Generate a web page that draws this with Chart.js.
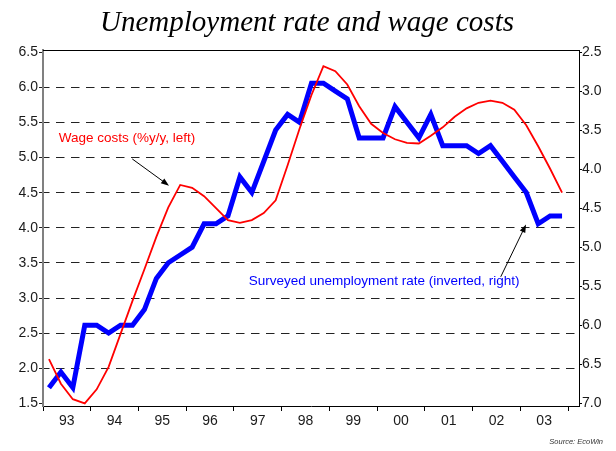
<!DOCTYPE html>
<html>
<head>
<meta charset="utf-8">
<style>
html, body { margin: 0; padding: 0; background: #fff; }
#wrap { position: relative; width: 616px; height: 451px; }
</style>
<script src="https://cdn.jsdelivr.net/npm/chart.js"></script>
</head>
<body>
<div id="wrap"><canvas id="chart" width="616" height="451"></canvas></div>
<script>
// year labels on the x axis (one per calendar year)
const yearLabels = ['93', '94', '95', '96', '97', '98', '99', '00', '01', '02', '03'];
const firstYear = 1993;

// quarterly observations, 1993 Q1 .. 2003 Q4
const quarters = [];
yearLabels.forEach((lab, i) => {
  for (let q = 1; q <= 4; q++) quarters.push({ year: firstYear + i, q: q });
});

// wage costs, % y/y (left axis)
const wageCosts = [2.13, 1.78, 1.56, 1.50, 1.70, 2.02, 2.49, 2.96, 3.41, 3.87, 4.29, 4.61,
  4.57, 4.45, 4.28, 4.11, 4.07, 4.11, 4.21, 4.39, 4.89, 5.41, 5.89, 6.30,
  6.23, 6.04, 5.73, 5.48, 5.35, 5.26, 5.21, 5.20, 5.31, 5.43, 5.58, 5.70,
  5.78, 5.81, 5.78, 5.68, 5.46, 5.16, 4.84, 4.50];

// surveyed unemployment rate, % (right axis, inverted)
const unemployment = [6.8, 6.6, 6.8, 6.0, 6.0, 6.1, 6.0, 6.0, 5.8, 5.4, 5.2, 5.1,
  5.0, 4.7, 4.7, 4.6, 4.1, 4.3, 3.9, 3.5, 3.3, 3.4, 2.9, 2.9,
  3.0, 3.1, 3.6, 3.6, 3.6, 3.2, 3.4, 3.6, 3.3, 3.7, 3.7, 3.7,
  3.8, 3.7, 3.9, 4.1, 4.3, 4.7, 4.6, 4.6];

const leftTicks = [1.5, 2.0, 2.5, 3.0, 3.5, 4.0, 4.5, 5.0, 5.5, 6.0, 6.5];
const rightTicks = [2.5, 3.0, 3.5, 4.0, 4.5, 5.0, 5.5, 6.0, 6.5, 7.0];

const titleText = 'Unemployment rate and wage costs';
const sourceText = 'Source: EcoWin';

// annotation texts, anchored in data units (x = year, y = axis value)
const notes = [
  { text: 'Wage costs (%y/y, left)', color: '#ff0000', axis: 'y', x: 1993.33, y: 5.27,
    from: [1994.87, 4.98], to: [1995.64, 4.60] },
  { text: 'Surveyed unemployment rate (inverted, right)', color: '#0000ff', axis: 'y1', x: 1997.31, y: 5.44,
    from: [2002.59, 5.38], to: [2003.12, 4.71] }
];

const qx = p => p.year + (p.q - 0.5) / 4;
const tickFont = { family: '"Liberation Sans", Arial, sans-serif', size: 14 };

const extras = {
  id: 'extras',
  afterDraw(chart) {
    const ctx = chart.ctx;
    const a = chart.chartArea;
    const xs = chart.scales.x;
    ctx.save();
    // top frame line
    ctx.strokeStyle = '#000';
    ctx.lineWidth = 1;
    ctx.beginPath();
    ctx.moveTo(a.left, Math.round(a.top) + 0.5);
    ctx.lineTo(a.right, Math.round(a.top) + 0.5);
    ctx.stroke();

    // title
    ctx.fillStyle = '#000';
    ctx.font = 'italic 29px "Liberation Serif", "Times New Roman", serif';
    ctx.textAlign = 'center';
    ctx.textBaseline = 'alphabetic';
    ctx.fillText(titleText, 307, 31);

    // annotations
    notes.forEach(n => {
      const ys = chart.scales[n.axis];
      ctx.font = '13.5px "Liberation Sans", Arial, sans-serif';
      ctx.fillStyle = n.color;
      ctx.textAlign = 'left';
      ctx.textBaseline = 'middle';
      ctx.fillText(n.text, xs.getPixelForValue(n.x), ys.getPixelForValue(n.y));

      const x1 = xs.getPixelForValue(n.from[0]), y1 = ys.getPixelForValue(n.from[1]);
      const x2 = xs.getPixelForValue(n.to[0]), y2 = ys.getPixelForValue(n.to[1]);
      const ang = Math.atan2(y2 - y1, x2 - x1);
      ctx.strokeStyle = '#000';
      ctx.fillStyle = '#000';
      ctx.lineWidth = 1;
      ctx.beginPath();
      ctx.moveTo(x1, y1);
      ctx.lineTo(x2 - 5 * Math.cos(ang), y2 - 5 * Math.sin(ang));
      ctx.stroke();
      ctx.beginPath();
      ctx.moveTo(x2, y2);
      ctx.lineTo(x2 - 8 * Math.cos(ang) + 3 * Math.sin(ang), y2 - 8 * Math.sin(ang) - 3 * Math.cos(ang));
      ctx.lineTo(x2 - 8 * Math.cos(ang) - 3 * Math.sin(ang), y2 - 8 * Math.sin(ang) + 3 * Math.cos(ang));
      ctx.closePath();
      ctx.fill();
    });

    // source
    ctx.font = 'italic 7.5px "Liberation Sans", Arial, sans-serif';
    ctx.fillStyle = '#333';
    ctx.textAlign = 'right';
    ctx.textBaseline = 'alphabetic';
    ctx.fillText(sourceText, 603, 444);
    ctx.restore();
  }
};

new Chart(document.getElementById('chart'), {
  type: 'line',
  data: {
    datasets: [
      {
        label: 'Wage costs (%y/y, left)',
        data: wageCosts.map((v, i) => ({ x: qx(quarters[i]), y: v })),
        yAxisID: 'y',
        borderColor: '#ff0000',
        borderWidth: 1.8,
        pointRadius: 0,
        tension: 0
      },
      {
        label: 'Surveyed unemployment rate (inverted, right)',
        data: unemployment.map((v, i) => ({ x: qx(quarters[i]), y: v })),
        yAxisID: 'y1',
        borderColor: '#0000ff',
        borderWidth: 5,
        pointRadius: 0,
        tension: 0
      }
    ]
  },
  options: {
    responsive: false,
    animation: false,
    layout: { padding: { top: 50, left: 0, right: 0, bottom: 0 } },
    plugins: { legend: { display: false }, tooltip: { enabled: false }, title: { display: false } },
    scales: {
      x: {
        type: 'linear',
        min: firstYear,
        max: firstYear + yearLabels.length + 0.23,
        afterBuildTicks: s => {
          const t = [];
          for (let i = 0; i <= yearLabels.length; i++) t.push({ value: firstYear + i });
          for (let i = 0; i < yearLabels.length; i++) t.push({ value: firstYear + i + 0.5 });
          s.ticks = t.sort((a, b) => a.value - b.value);
        },
        afterFit: s => { s.height = 45; },
        ticks: {
          autoSkip: false, maxRotation: 0, minRotation: 0, padding: 2,
          font: tickFont, color: '#1a1a1a',
          callback: v => Number.isInteger(v) ? '' : yearLabels[Math.floor(v) - firstYear]
        },
        grid: {
          drawOnChartArea: false, tickLength: 5,
          color: c => (c.tick && Number.isInteger(c.tick.value)) ? '#000' : 'rgba(0,0,0,0)',
          tickColor: c => (c.tick && Number.isInteger(c.tick.value)) ? '#000' : 'rgba(0,0,0,0)'
        },
        border: { color: '#000', width: 1 }
      },
      y: {
        position: 'left',
        min: 1.463,
        max: 6.531,
        afterBuildTicks: s => { s.ticks = leftTicks.map(v => ({ value: v })); },
        afterFit: s => { s.width = 43; },
        ticks: { font: tickFont, color: '#1a1a1a', padding: 1, callback: v => v.toFixed(1) },
        grid: {
          tickLength: 4,
          lineWidth: 1,
          color: c => (c.tick && (c.tick.value === 1.5 || c.tick.value === 6.5)) ? 'rgba(0,0,0,0)' : '#222',
          tickColor: '#222'
        },
        border: { color: '#808080', width: 2, dash: [8.5, 6.5], dashOffset: 3 }
      },
      y1: {
        position: 'right',
        reverse: true,
        min: 2.474,
        max: 7.035,
        afterBuildTicks: s => { s.ticks = rightTicks.map(v => ({ value: v })); },
        afterFit: s => { s.width = 37; },
        ticks: { font: tickFont, color: '#1a1a1a', padding: 0, callback: v => v.toFixed(1) },
        grid: { drawOnChartArea: false, tickLength: 3, color: '#000', tickColor: '#000' },
        border: { color: '#000', width: 1 }
      }
    }
  },
  plugins: [extras]
});
</script>
</body>
</html>
